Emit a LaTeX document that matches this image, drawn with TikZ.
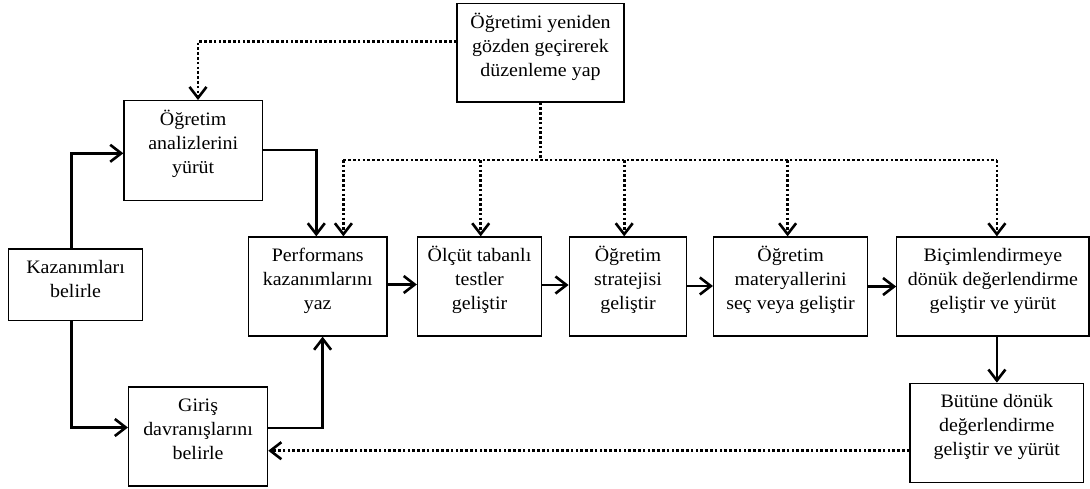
\documentclass[tikz,border=0pt]{standalone}
\usepackage{fontspec}
\setmainfont{Liberation Serif}[FakeStretch=1.05]
\usetikzlibrary{arrows.meta}
% box body: width, height (pt), text set from the top edge
\newcommand{\boxbody}[3]{\parbox[c][#2pt][t]{#1pt}{\centering\fontsize{19}{24}\selectfont\rule{0pt}{24.5pt}#3}}
\begin{document}
\begin{tikzpicture}[x=1pt,y=-1pt,
  stepbox/.style={draw, line width=1.3pt, inner sep=0pt},
  tip/.style={-{Straight Barb[length=11pt,width=17pt]}},
  solidline/.style={line width=2.6pt},
  dotline/.style={line width=2.6pt, dash pattern=on 2.6pt off 2.2pt}
]
\useasboundingbox (0,0) rectangle (1090,488);

% process steps
\node[stepbox] (rev)   at (540.5,52.75) {\boxbody{167}{98.5}{Öğretimi yeniden\\gözden geçirerek\\düzenleme yap}};
\node[stepbox] (anal)  at (193.2,150.7) {\boxbody{138.4}{100}{Öğretim\\analizlerini\\yürüt}};
\node[stepbox] (kaz)   at (75.6,284.85) {\boxbody{133.8}{71.7}{Kazanımları\\belirle}};
\node[stepbox] (perf)  at (317.75,286.5) {\boxbody{138.5}{99}{Performans\\kazanımlarını\\yaz}};
\node[stepbox] (olc)   at (479.5,286.5) {\boxbody{124}{99}{Ölçüt tabanlı\\testler\\geliştir}};
\node[stepbox] (strat) at (628,286.5) {\boxbody{117.5}{99}{Öğretim\\stratejisi\\geliştir}};
\node[stepbox] (mat)   at (790.6,286.5) {\boxbody{154}{99}{Öğretim\\materyallerini\\seç veya geliştir}};
\node[stepbox] (bic)   at (992.9,286.5) {\boxbody{192.2}{99}{Biçimlendirmeye\\dönük değerlendirme\\geliştir ve yürüt}};
\node[stepbox] (but)   at (996.75,432.8) {\boxbody{173.5}{99}{Bütüne dönük\\değerlendirme\\geliştir ve yürüt}};
\node[stepbox] (gir)   at (198.1,436.5) {\boxbody{139}{99}{Giriş\\davranışlarını\\belirle}};

% routing corners
\coordinate (j1) at (198,41.7);
\coordinate (k1) at (71.3,153.3);
\coordinate (a1) at (316.3,150);
\coordinate (hm) at (540.5,160);
\coordinate (h1) at (343.4,160);
\coordinate (h2) at (996.9,160);
\coordinate (d1) at (480.7,160);
\coordinate (d2) at (624.2,160);
\coordinate (d3) at (787.6,160);
\coordinate (k2) at (71.3,427.5);
\coordinate (g1) at (322.6,428);
\coordinate (b1) at (600,450.7);

% main flow
\draw[solidline, tip] (kaz.north -| k1) -- (k1) -- (k1 -| anal.west);
\draw[solidline, tip] (anal.east |- a1) -- (a1) -- (a1 |- perf.north);
\draw[solidline, tip] (kaz.south -| k2) -- (k2) -- (k2 -| gir.west);
\draw[solidline, tip] (gir.east |- g1) -- (g1) -- (g1 |- perf.south);
\draw[solidline, tip] ([yshift=2pt]perf.east) -- ([yshift=2pt]perf.east -| olc.west);
\draw[solidline, tip] ([yshift=1.5pt]olc.east) -- ([yshift=1.5pt]olc.east -| strat.west);
\draw[solidline, tip] ([yshift=0.5pt]strat.east) -- ([yshift=0.5pt]strat.east -| mat.west);
\draw[solidline, tip] (mat.east) -- (bic.west);
\draw[solidline, tip] (h2 |- bic.south) -- (h2 |- but.north);

% revision feedback
\draw[dotline, tip] (rev.west |- j1) -- (j1) -- (j1 |- anal.north);
\draw[dotline] (rev.south) -- (hm);
\draw[dotline] (h1) -- (h2);
\draw[dotline, tip] (h1) -- (h1 |- perf.north);
\draw[dotline, tip] (d1) -- (d1 |- olc.north);
\draw[dotline, tip] (d2) -- (d2 |- strat.north);
\draw[dotline, tip] (d3) -- (d3 |- mat.north);
\draw[dotline, tip] (h2) -- (h2 |- bic.north);
\draw[dotline, tip] (but.west |- b1) -- (gir.east |- b1);
\end{tikzpicture}
\end{document}
